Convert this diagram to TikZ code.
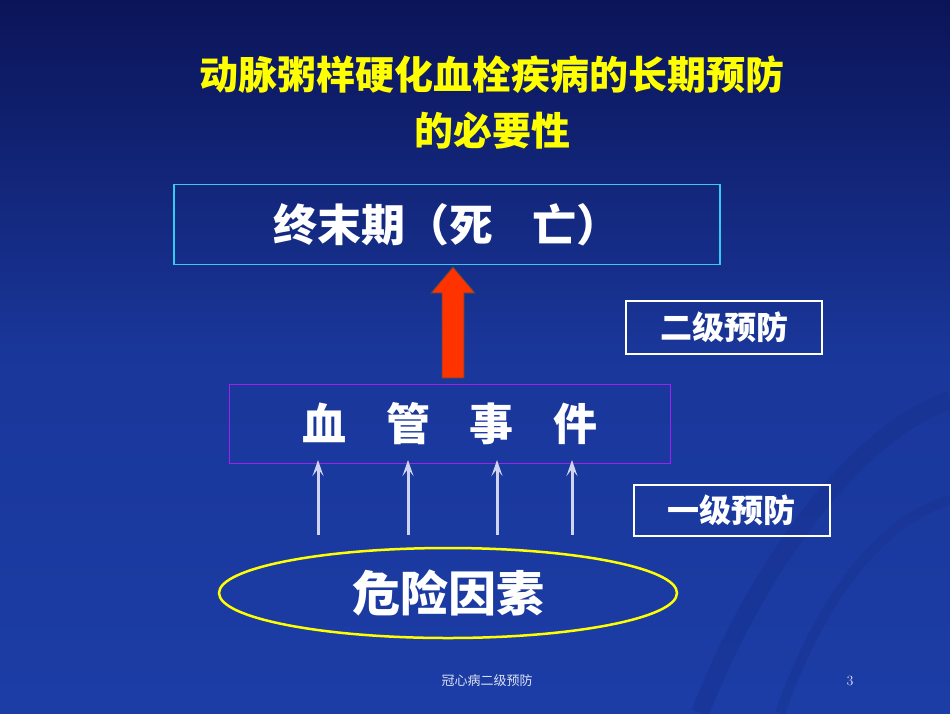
\documentclass[tikz,border=0pt]{standalone}
\usepackage{fontspec}
\usepackage{xcolor}
\usetikzlibrary{positioning,arrows.meta,shapes.geometric}
\newfontfamily\cjk{Noto Sans CJK SC}[BoldFont={Noto Sans CJK SC Black}]
\definecolor{bgtop}{HTML}{0B1458}
\definecolor{bgbot}{HTML}{1C3DA6}
\definecolor{titleyel}{HTML}{FFFF00}
\definecolor{boxcyan}{HTML}{33CCEE}
\definecolor{boxpurple}{HTML}{A020F0}
\definecolor{arrowred}{HTML}{FF3300}
\definecolor{riskarrow}{HTML}{D0D4F0}
\tikzset{
  stagebox/.style={draw, line width=1.6pt, minimum height=80pt, text=white, font=\cjk\bfseries\fontsize{44}{46}\selectfont},
  levelbox/.style={draw=white, line width=2pt, minimum width=196pt, minimum height=53pt, text=white, font=\cjk\bfseries\fontsize{32}{34}\selectfont},
  riskup/.style={draw=riskarrow, line width=3pt, -{Stealth[length=16pt,width=11pt,inset=7pt]}}
}
\begin{document}
\begin{tikzpicture}[x=1pt, y=-1pt]
  \useasboundingbox (0,0) rectangle (950,713);
  \shade[top color=bgtop, bottom color=bgbot, middle color=bgbot!85!bgtop] (0,0) rectangle (950,713);
  \draw[bgtop!40!bgbot, line width=18pt, opacity=0.35] (700,713) .. controls (760,560) and (860,430) .. (950,400);
  \draw[bgtop!40!bgbot, line width=10pt, opacity=0.3] (780,713) .. controls (820,600) and (880,520) .. (950,500);

  % title
  \node[text=titleyel, font=\cjk\bfseries\fontsize{39}{41}\selectfont] (title1) at (492,75) {动脉粥样硬化血栓疾病的长期预防};
  \node[text=titleyel, font=\cjk\bfseries\fontsize{39}{41}\selectfont] (title2) at (492,131) {的必要性};

  % stages
  \node[stagebox, draw=boxcyan, minimum width=546pt] (death) at (447,224.5) {终末期（死\hspace{0.9em}亡）};
  \node[stagebox, draw=boxpurple, minimum width=441pt, minimum height=79pt] (event) at (450,424) {血\hspace{0.9em}管\hspace{0.9em}事\hspace{0.9em}件};
  \node[draw=titleyel, line width=2.5pt, ellipse, minimum width=458pt, minimum height=90pt, text=white, font=\cjk\bfseries\fontsize{48}{50}\selectfont, inner sep=0pt] (risk) at (448,593) {危险因素};

  % prevention levels
  \node[levelbox] (second) at (724,327.5) {二级预防};
  \node[levelbox, minimum height=51pt] (first) at (731.5,510.5) {一级预防};

  % red arrow
  \filldraw[fill=arrowred, draw=black!70, line width=0.8pt]
    (442,378) -- (442,293) -- (431,293) -- (453,267) -- (475,293) -- (464,293) -- (464,378) -- cycle;

  % risk arrows
  \foreach \x [count=\i] in {318,408,497,572} {
    \coordinate (r\i) at (\x,535);
    \coordinate (e\i) at (\x,460);
    \draw[riskup] (r\i) -- (e\i);
  }

  % footer
  \node[text=white!85!bgbot, font=\cjk\fontsize{13}{14}\selectfont] (foot) at (487,681) {冠心病二级预防};
  \node[text=white!85!bgbot, font=\fontsize{14}{15}\selectfont] (page) at (850,681) {3};
\end{tikzpicture}
\end{document}
